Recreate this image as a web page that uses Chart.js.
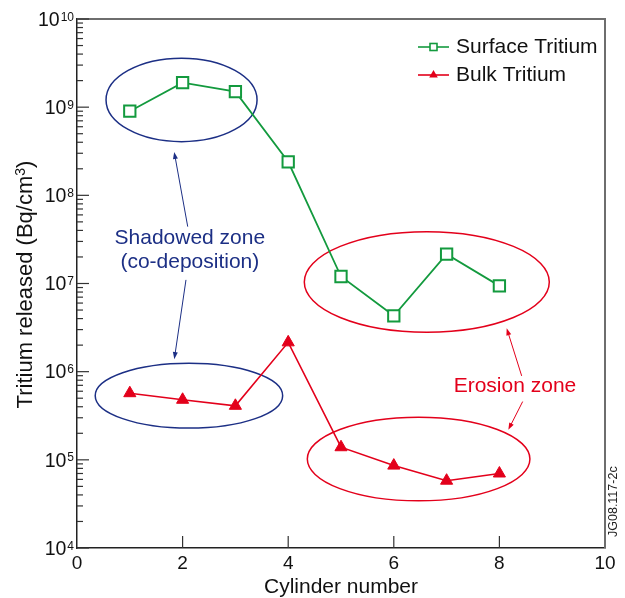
<!DOCTYPE html>
<html>
<head>
<meta charset="utf-8">
<script src="https://cdn.jsdelivr.net/npm/chart.js@4.4.1/dist/chart.umd.min.js"></script>
<style>
  html, body { margin: 0; padding: 0; background: #fff; }
  canvas { display: block; }
</style>
</head>
<body>
<canvas id="tritiumChart" width="625" height="598"></canvas>
<script>
// values
const cylinders = [1, 2, 3, 4, 5, 6, 7, 8];
const surfaceTritium = [9.0e8, 1.9e9, 1.5e9, 2.4e8, 1.2e7, 4.3e6, 2.15e7, 9.4e6];
const bulkTritium = [5.7e5, 4.8e5, 4.1e5, 2.15e6, 1.39e5, 8.6e4, 5.8e4, 7.0e4];
const xTicks = [0, 2, 4, 6, 8, 10];
const yDecades = [4, 5, 6, 7, 8, 9, 10];

const GREEN = '#139a3e';
const RED = '#e3001b';
const NAVY = '#1c2f85';
const FONT = '"Liberation Sans", Arial, sans-serif';

// zone annotations, in axis units (x, log10 y)
const zones = [
    { cx: 1.98, cy: 9.082, rx: 1.43, ry: 0.473, color: NAVY },
    { cx: 2.12, cy: 5.728, rx: 1.775, ry: 0.368, color: NAVY },
    { cx: 6.625, cy: 7.018, rx: 2.32, ry: 0.57, color: RED },
    { cx: 6.47, cy: 5.009, rx: 2.108, ry: 0.474, color: RED }
];
const arrows = [
    { x0: 2.097, y0: 7.645, x1: 1.841, y1: 8.492, color: NAVY },
    { x0: 2.064, y0: 7.041, x1: 1.843, y1: 6.142, color: NAVY },
    { x0: 8.422, y0: 5.952, x1: 8.138, y1: 6.493, color: RED },
    { x0: 8.441, y0: 5.661, x1: 8.169, y1: 5.340, color: RED }
];
const notes = [
    { text: 'Shadowed zone', x: 2.137, y: 7.443, color: NAVY },
    { text: '(co-deposition)', x: 2.137, y: 7.173, color: NAVY },
    { text: 'Erosion zone', x: 8.295, y: 5.771, color: RED }
];

const overlay = {
    id: 'overlay',
    beforeDatasetsDraw(chart) {
        const ctx = chart.ctx;
        const xs = chart.scales.x, ys = chart.scales.y;
        const px = v => xs.getPixelForValue(v);
        const py = e => ys.getPixelForValue(Math.pow(10, e));
        ctx.save();
        zones.forEach(z => {
            ctx.beginPath();
            ctx.ellipse(px(z.cx), py(z.cy), px(z.cx + z.rx) - px(z.cx), py(z.cy - z.ry) - py(z.cy), 0, 0, Math.PI * 2);
            ctx.strokeStyle = z.color;
            ctx.lineWidth = 1.5;
            ctx.stroke();
        });
        arrows.forEach(a => {
            const sx = px(a.x0), sy = py(a.y0), tx = px(a.x1), ty = py(a.y1);
            const ang = Math.atan2(ty - sy, tx - sx);
            ctx.strokeStyle = a.color;
            ctx.fillStyle = a.color;
            ctx.lineWidth = 1;
            ctx.beginPath();
            ctx.moveTo(sx, sy);
            ctx.lineTo(tx - 5 * Math.cos(ang), ty - 5 * Math.sin(ang));
            ctx.stroke();
            ctx.beginPath();
            ctx.moveTo(tx, ty);
            ctx.lineTo(tx - 7 * Math.cos(ang) + 2.5 * Math.sin(ang), ty - 7 * Math.sin(ang) - 2.5 * Math.cos(ang));
            ctx.lineTo(tx - 7 * Math.cos(ang) - 2.5 * Math.sin(ang), ty - 7 * Math.sin(ang) + 2.5 * Math.cos(ang));
            ctx.closePath();
            ctx.fill();
        });
        ctx.font = '21px ' + FONT;
        ctx.textAlign = 'center';
        ctx.textBaseline = 'alphabetic';
        notes.forEach(n => {
            ctx.fillStyle = n.color;
            ctx.fillText(n.text, px(n.x), py(n.y));
        });
        ctx.restore();
    },
    afterDraw(chart) {
        const ctx = chart.ctx;
        const area = chart.chartArea;
        const xs = chart.scales.x, ys = chart.scales.y;
        ctx.save();

        // top and right frame
        ctx.strokeStyle = '#6e6e6e';
        ctx.lineWidth = 2;
        ctx.beginPath();
        ctx.moveTo(area.left, area.top);
        ctx.lineTo(area.right, area.top);
        ctx.lineTo(area.right, area.bottom);
        ctx.stroke();

        // inward ticks
        ctx.strokeStyle = '#333';
        ctx.lineWidth = 1.2;
        xTicks.forEach(v => {
            if (v === xTicks[0] || v === xTicks[xTicks.length - 1]) return;
            const x = xs.getPixelForValue(v);
            ctx.beginPath();
            ctx.moveTo(x, area.bottom);
            ctx.lineTo(x, area.bottom - 12);
            ctx.stroke();
        });
        const top = yDecades[yDecades.length - 1];
        yDecades.forEach(e => {
            for (let m = 1; m <= 9; m++) {
                if (e === top && m > 1) break;
                const y = ys.getPixelForValue(m * Math.pow(10, e));
                ctx.beginPath();
                ctx.moveTo(area.left, y);
                ctx.lineTo(area.left + (m === 1 ? 12 : 6), y);
                ctx.stroke();
            }
        });

        // x tick labels
        ctx.fillStyle = '#111';
        ctx.font = '19px ' + FONT;
        ctx.textAlign = 'center';
        ctx.textBaseline = 'alphabetic';
        xTicks.forEach(v => {
            ctx.fillText(String(v), xs.getPixelForValue(v), area.bottom + 21);
        });

        // y tick labels 10^n
        yDecades.forEach(e => {
            const y = ys.getPixelForValue(Math.pow(10, e));
            const right = area.left - 3;
            ctx.font = '12px ' + FONT;
            ctx.textAlign = 'right';
            const w = ctx.measureText(String(e)).width;
            ctx.fillText(String(e), right, y + 1.5);
            ctx.font = '19.5px ' + FONT;
            ctx.fillText('10', right - w - 1, y + 6.8);
        });

        // axis titles
        ctx.font = '21px ' + FONT;
        ctx.textAlign = 'center';
        ctx.fillText('Cylinder number', (area.left + area.right) / 2, 593);

        ctx.save();
        ctx.translate(32, (area.top + area.bottom) / 2 + 1);
        ctx.rotate(-Math.PI / 2);
        const main = 'Tritium released (Bq/cm';
        ctx.font = '22px ' + FONT;
        const wMain = ctx.measureText(main).width;
        const wParen = ctx.measureText(')').width;
        ctx.font = '14px ' + FONT;
        const wSup = ctx.measureText('3').width;
        const start = -(wMain + wSup + wParen) / 2;
        ctx.textAlign = 'left';
        ctx.font = '22px ' + FONT;
        ctx.fillText(main, start, 0);
        ctx.fillText(')', start + wMain + wSup, 0);
        ctx.font = '14px ' + FONT;
        ctx.fillText('3', start + wMain, -7);
        ctx.restore();

        // figure code
        ctx.save();
        ctx.translate(617, 537);
        ctx.rotate(-Math.PI / 2);
        ctx.font = '12.5px ' + FONT;
        ctx.textAlign = 'left';
        ctx.fillStyle = '#222';
        ctx.fillText('JG08.117-2c', 0, 0);
        ctx.restore();

        // legend
        const rows = [47, 75];
        chart.data.datasets.forEach((ds, i) => {
            const y = rows[i];
            ctx.strokeStyle = ds.borderColor;
            ctx.lineWidth = 1.6;
            ctx.beginPath();
            ctx.moveTo(418, y);
            ctx.lineTo(449, y);
            ctx.stroke();
            if (ds.pointStyle === 'rect') {
                ctx.fillStyle = '#fff';
                ctx.fillRect(430, y - 3.5, 7, 7);
                ctx.lineWidth = 1.6;
                ctx.strokeRect(430, y - 3.5, 7, 7);
            } else {
                ctx.fillStyle = ds.borderColor;
                ctx.beginPath();
                ctx.moveTo(433.5, y - 5);
                ctx.lineTo(437.8, y + 2.5);
                ctx.lineTo(429.2, y + 2.5);
                ctx.closePath();
                ctx.fill();
            }
            ctx.fillStyle = '#111';
            ctx.font = '21px ' + FONT;
            ctx.textAlign = 'left';
            ctx.fillText(ds.label, 456, y + 6);
        });

        ctx.restore();
    }
};

const ctx = document.getElementById('tritiumChart').getContext('2d');
new Chart(ctx, {
    type: 'line',
    data: {
        datasets: [
            {
                label: 'Surface Tritium',
                data: cylinders.map((c, i) => ({ x: c, y: surfaceTritium[i] })),
                borderColor: GREEN,
                borderWidth: 1.8,
                pointStyle: 'rect',
                pointRadius: 8,
                pointBorderWidth: 2,
                pointBackgroundColor: '#fff',
                pointBorderColor: GREEN
            },
            {
                label: 'Bulk Tritium',
                data: cylinders.map((c, i) => ({ x: c, y: bulkTritium[i] })),
                borderColor: RED,
                borderWidth: 1.6,
                pointStyle: 'triangle',
                pointRadius: 7,
                pointBorderWidth: 1,
                pointBackgroundColor: RED,
                pointBorderColor: RED
            }
        ]
    },
    options: {
        responsive: false,
        animation: false,
        layout: {
            padding: { left: 77, top: 19, right: 20, bottom: 50 }
        },
        plugins: {
            legend: { display: false },
            tooltip: { enabled: false }
        },
        scales: {
            x: {
                type: 'linear',
                min: 0,
                max: 10,
                ticks: { display: false, stepSize: 2 },
                grid: { display: false, drawTicks: false },
                border: { display: true, color: '#222', width: 1.5 }
            },
            y: {
                type: 'logarithmic',
                min: 1e4,
                max: 1e10,
                ticks: { display: false },
                grid: { display: false, drawTicks: false },
                border: { display: true, color: '#222', width: 1.5 }
            }
        }
    },
    plugins: [overlay]
});
</script>
</body>
</html>
